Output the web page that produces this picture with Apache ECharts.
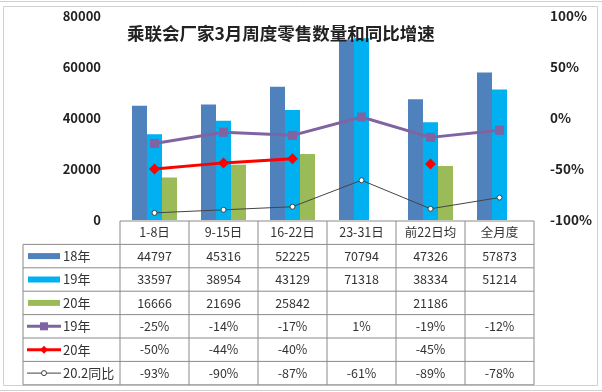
<!DOCTYPE html>
<html><head><meta charset="utf-8">
<script src="https://cdn.jsdelivr.net/npm/echarts@6/dist/echarts.min.js"></script>
<style>html,body{margin:0;padding:0;background:#fff}#c{width:602px;height:392px}</style>
</head><body><div id="c"></div>
<script>
const categories = ['1-8日','9-15日','16-22日','23-31日','前22日均','全月度'];
const s18 = [44797,45316,52225,70794,47326,57873];
const s19 = [33597,38954,43129,71318,38334,51214];
const s20 = [16666,21696,25842,null,21186,null];
const g19 = [-25,-14,-17,1,-19,-12];
const g20 = [-50,-44,-40,null,-45,null];
const g202 = [-93,-90,-87,-61,-89,-78];
const leftTicks = [0,20000,40000,60000,80000];
const rightTicks = [-100,-50,0,50,100];

const F = '"Noto Sans CJK SC", "Noto Sans", sans-serif';
const C18 = '#4F81BD', C19 = '#00B0F0', C20 = '#9BBB59', CP = '#8064A2', CR = '#FF0000', CK = '#444';

const chart = echarts.init(document.getElementById('c'), null, {renderer:'canvas'});
const option = {
  animation: false,
  backgroundColor: '#fff',
  title: {text: '乘联会厂家3月周度零售数量和同比增速', left: 122, top: 20,
    textStyle: {fontFamily: F, fontSize: 17.5, fontWeight: 'bold', color: '#222'}},
  grid: {left: 120, right: 68, top: 16, bottom: 172, containLabel: false},
  xAxis: {type: 'category', data: categories, axisLine: {show: false}, axisTick: {show: false}, axisLabel: {show: false}},
  yAxis: [
    {type: 'value', min: leftTicks[0], max: leftTicks[leftTicks.length-1], interval: 20000,
     splitLine: {show: false}, axisLine: {show: false}, axisTick: {show: false},
     axisLabel: {margin: 19, fontFamily: F, fontSize: 13, fontWeight: 'bold', color: '#222', formatter: v => String(v)}},
    {type: 'value', min: rightTicks[0], max: rightTicks[rightTicks.length-1], interval: 50,
     splitLine: {show: false}, axisLine: {show: false}, axisTick: {show: false},
     axisLabel: {margin: 16, fontFamily: F, fontSize: 13.5, fontWeight: 'bold', color: '#222', formatter: '{value}%'}}
  ],
  series: [
    {name: '18年', type: 'bar', data: s18, barWidth: 15, barGap: '0%', itemStyle: {color: C18}},
    {name: '19年', type: 'bar', data: s19, barWidth: 15, barGap: '0%', itemStyle: {color: C19}},
    {name: '20年', type: 'bar', data: s20, barWidth: 15, barGap: '0%', itemStyle: {color: C20}},
    {name: '19年增速', type: 'line', yAxisIndex: 1, data: g19, symbol: 'rect', symbolSize: 9,
     lineStyle: {color: CP, width: 3}, itemStyle: {color: CP}, z: 5},
    {name: '20年增速', type: 'line', yAxisIndex: 1, data: g20, symbol: 'diamond', symbolSize: 11,
     connectNulls: false, lineStyle: {color: CR, width: 3}, itemStyle: {color: CR}, z: 5},
    {name: '20.2同比', type: 'line', yAxisIndex: 1, data: g202, symbol: 'circle', symbolSize: 5,
     lineStyle: {color: CK, width: 1}, itemStyle: {color: '#fff', borderColor: CK, borderWidth: 1}, z: 5}
  ]
};
chart.setOption(option);

// table
const x0 = chart.convertToPixel({xAxisIndex: 0}, 0);
const x1 = chart.convertToPixel({xAxisIndex: 0}, 1);
const band = x1 - x0;
const tableLeft = x0 - band/2;
const tableRight = tableLeft + band*categories.length;
const legendLeft = 23;
const top0 = chart.convertToPixel({yAxisIndex: 0}, 0) + 1;
const rowH = 23.4;
const els = [];
const lineStyle = {stroke: '#8a8a8a', lineWidth: 1};
const rows = [
  {label: '18年', vals: s18.map(v => v==null?'':String(v)), sym: 'bar', color: C18},
  {label: '19年', vals: s19.map(v => v==null?'':String(v)), sym: 'bar', color: C19},
  {label: '20年', vals: s20.map(v => v==null?'':String(v)), sym: 'bar', color: C20},
  {label: '19年', vals: g19.map(v => v==null?'':v+'%'), sym: 'rect', color: CP},
  {label: '20年', vals: g20.map(v => v==null?'':v+'%'), sym: 'diamond', color: CR},
  {label: '20.2同比', vals: g202.map(v => v==null?'':v+'%'), sym: 'circle', color: CK}
];
const nRows = rows.length + 1;
const bottom = top0 + rowH*nRows;
els.push({type: 'line', shape: {x1: tableLeft, y1: top0, x2: tableRight, y2: top0}, style: lineStyle, silent: true});
for (let r = 1; r <= nRows; r++) {
  const y = top0 + rowH*r;
  els.push({type: 'line', shape: {x1: legendLeft, y1: y, x2: tableRight, y2: y}, style: lineStyle, silent: true});
}
for (let c = 0; c <= categories.length; c++) {
  const x = tableLeft + band*c;
  els.push({type: 'line', shape: {x1: x, y1: top0, x2: x, y2: bottom}, style: lineStyle, silent: true});
}
els.push({type: 'line', shape: {x1: legendLeft, y1: top0 + rowH, x2: legendLeft, y2: bottom}, style: lineStyle, silent: true});
const txt = {fontFamily: F, fontSize: 12.5, fill: '#333', align: 'center', verticalAlign: 'middle'};
categories.forEach((c, i) => {
  els.push({type: 'text', x: chart.convertToPixel({xAxisIndex: 0}, i), y: top0 + rowH/2,
    style: Object.assign({text: c}, txt), silent: true});
});
rows.forEach((row, r) => {
  const yc = top0 + rowH*(r+1) + rowH/2;
  row.vals.forEach((v, i) => {
    els.push({type: 'text', x: chart.convertToPixel({xAxisIndex: 0}, i), y: yc,
      style: Object.assign({text: v}, txt), silent: true});
  });
  const sx = legendLeft + 5, ex = legendLeft + 37;
  if (row.sym === 'bar') {
    els.push({type: 'rect', shape: {x: sx, y: yc - 3, width: ex - sx, height: 6}, style: {fill: row.color}, silent: true});
  } else if (row.sym === 'rect') {
    els.push({type: 'line', shape: {x1: sx - 1, y1: yc, x2: ex + 1, y2: yc}, style: {stroke: row.color, lineWidth: 3}, silent: true});
    els.push({type: 'rect', shape: {x: (sx+ex)/2 - 4, y: yc - 4, width: 8, height: 8}, style: {fill: row.color}, silent: true});
  } else if (row.sym === 'diamond') {
    els.push({type: 'line', shape: {x1: sx - 1, y1: yc, x2: ex + 1, y2: yc}, style: {stroke: row.color, lineWidth: 3}, silent: true});
    els.push({type: 'polygon', shape: {points: [[(sx+ex)/2, yc-4],[(sx+ex)/2+4, yc],[(sx+ex)/2, yc+4],[(sx+ex)/2-4, yc]]}, style: {fill: row.color}, silent: true});
  } else {
    els.push({type: 'line', shape: {x1: sx - 1, y1: yc, x2: ex + 1, y2: yc}, style: {stroke: row.color, lineWidth: 1}, silent: true});
    els.push({type: 'circle', shape: {cx: (sx+ex)/2, cy: yc, r: 2.5}, style: {fill: '#fff', stroke: row.color, lineWidth: 1}, silent: true});
  }
  els.push({type: 'text', x: ex + 3, y: yc, style: {text: row.label, fontFamily: F, fontSize: 13, fill: '#333', align: 'left', verticalAlign: 'middle'}, silent: true});
});
els.push({type: 'rect', shape: {x: 3.5, y: 6.5, width: 594, height: 379}, style: {fill: null, stroke: '#d0d0d0', lineWidth: 1}, silent: true, z: -1});
els.push({type: 'line', shape: {x1: 0, y1: 1.5, x2: 602, y2: 1.5}, style: {stroke: '#d0d0d0', lineWidth: 1}, silent: true});
els.push({type: 'line', shape: {x1: 0, y1: 390.5, x2: 602, y2: 390.5}, style: {stroke: '#d0d0d0', lineWidth: 1}, silent: true});
chart.setOption({graphic: {elements: els}});
</script></body></html>
